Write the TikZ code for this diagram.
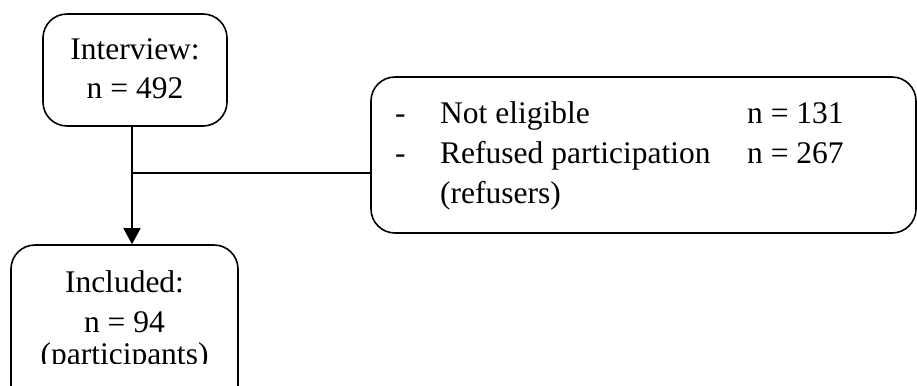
\documentclass[tikz,border=0pt]{standalone}
\usepackage{fontspec}
\setmainfont{Liberation Serif}
\usetikzlibrary{arrows.meta}
\begin{document}
\begin{tikzpicture}[x=1pt,y=-1pt,
  box/.style={draw, line width=1.6pt, rounded corners=24pt, inner sep=0pt},
  txt/.style={font=\fontsize{31.5}{40}\selectfont, inner sep=0pt},
  link/.style={line width=1.6pt},
  arrow/.style={line width=1.6pt, -{Triangle[width=17pt,length=16pt]}}]
\useasboundingbox (0,0) rectangle (917,385);
\clip (0,0) rectangle (917,385);
% boxes
\node[box, minimum width=184pt, minimum height=112pt] (interview) at (135,70) {};
\node[box, minimum width=227pt, minimum height=170pt] (included) at (124.5,330) {};
\node[box, minimum width=545pt, minimum height=156pt] (excluded) at (643.5,155) {};
% texts
\node[txt, anchor=base] (t1) at (135,60) {Interview:};
\node[txt, anchor=base] (t2) at (135,99) {n = 492};
\node[txt, anchor=base] (t3) at (124.5,292) {Included:};
\node[txt, anchor=base] (t4) at (124.5,332) {n = 94};
\begin{scope}
\clip (0,0) rectangle (917,363);
\node[txt, anchor=base] (t5) at (124.5,364) {(participants)};
\end{scope}
\node[txt, anchor=base west] (d1) at (395,123) {-};
\node[txt, anchor=base west] (e1) at (440,123) {Not eligible};
\node[txt, anchor=base west] (n1) at (747,123) {n = 131};
\node[txt, anchor=base west] (d2) at (395,163) {-};
\node[txt, anchor=base west] (e2) at (440,163) {Refused participation};
\node[txt, anchor=base west] (n2) at (747,163) {n = 267};
\node[txt, anchor=base west] (e3) at (440,203) {(refusers)};
% connectors
\coordinate (split) at (132,173);
\draw[arrow] (split |- interview.south) -- (split |- included.north);
\draw[link] (split) -- (split -| excluded.west);
\end{tikzpicture}
\end{document}
